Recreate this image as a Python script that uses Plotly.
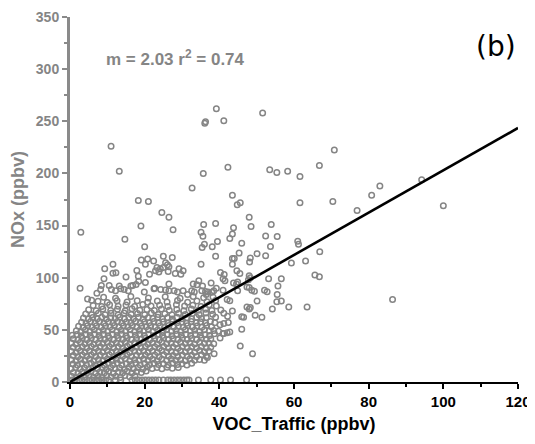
import plotly.graph_objects as go

# ---------------- data ----------------
slope = 2.03
r2 = 0.74

# points sitting on the bottom (near-zero NOx)
zero_row = [(0.5,1.8),(1.4,1.8),(2.3,1.8),(3.2,1.8),(4.1,1.8),(5.0,1.8),(5.9,1.8),(6.8,1.8),
            (7.7,1.8),(8.6,1.8),(9.5,1.8),(10.4,1.8),(12.1,1.8),(13.6,1.8),(16.6,1.8),(17.5,1.8),
            (18.4,1.8),(19.3,1.8),(20.2,1.8),(21.1,1.8),(22.0,1.8),(22.9,1.8),(23.8,1.8),(25.0,1.8),
            (26.2,1.8),(27.0,1.8),(27.9,1.8),(28.8,1.8),(29.6,1.8),(30.5,1.8),(31.3,1.8),(31.9,1.8),
            (34.4,1.8),(37.7,1.8),(40.3,1.8),(43.0,1.8),(47.3,1.8)]

# dense cloud (estimated)
cloud = [
 (0.4,5.5),(1.6,4.2),(2.8,6.1),(4.0,4.8),(5.1,6.4),(6.3,4.5),(7.5,5.8),(8.6,4.3),(9.8,6.2),(11.0,4.9),
 (12.3,5.6),(13.5,4.4),(14.7,6.3),(16.0,5.1),(17.4,6.0),
 (0.9,9.2),(2.1,8.3),(3.3,9.9),(4.5,8.6),(5.6,10.1),(6.9,8.4),(8.0,9.6),(9.2,8.8),(10.4,10.2),(11.6,8.5),
 (12.9,9.7),(14.1,8.9),(15.3,10.4),(16.6,8.7),(17.8,9.9),(19.1,9.1),(20.4,10.6),
 (0.3,12.8),(1.5,13.9),(2.7,12.4),(3.9,13.6),(5.0,12.2),(6.2,14.1),(7.4,12.7),(8.6,13.8),(9.7,12.3),
 (10.9,14.0),(12.1,12.6),(13.3,13.5),(14.6,12.1),(15.8,14.2),(17.0,12.8),(18.2,13.9),(19.5,12.5),
 (20.7,14.3),(22.0,12.9),(23.3,13.8),(24.6,12.6),(26.0,14.1),(27.4,13.2),(29.0,13.9),
 (0.8,17.3),(2.0,16.2),(3.2,17.8),(4.4,16.5),(5.6,18.0),(6.8,16.4),(8.0,17.6),(9.2,16.1),(10.3,17.9),
 (11.5,16.6),(12.7,18.1),(13.9,16.3),(15.1,17.5),(16.4,16.8),(17.6,18.2),(18.8,16.4),(20.0,17.7),
 (21.3,16.5),(22.5,18.0),(23.7,16.9),(25.0,17.4),(26.3,16.2),(27.5,18.3),(28.8,16.8),(30.0,17.6),
 (31.3,16.4),(32.6,17.9),
 (0.4,21.2),(1.6,20.3),(2.8,21.9),(4.0,20.5),(5.2,22.1),(6.4,20.2),(7.6,21.6),(8.8,20.7),(10.0,22.0),
 (11.2,20.4),(12.4,21.8),(13.6,20.6),(14.8,22.2),(16.0,20.3),(17.3,21.5),(18.5,20.8),(19.7,22.1),
 (20.9,20.5),(22.1,21.7),(23.4,20.2),(24.6,21.9),(25.9,20.6),(27.1,22.0),(28.4,20.7),(29.6,21.4),
 (30.9,20.3),(32.1,22.1),(33.4,20.8),(34.7,21.6),(36.0,20.9),(36.8,23.5),
 (0.9,25.4),(2.1,24.3),(3.3,25.8),(4.5,24.6),(5.7,26.0),(6.9,24.4),(8.1,25.7),(9.3,24.8),(10.5,26.1),
 (11.7,24.5),(12.9,25.9),(14.1,24.7),(15.3,26.2),(16.5,24.4),(17.8,25.6),(19.0,24.9),(20.2,26.0),
 (21.4,24.5),(22.7,25.8),(23.9,24.3),(25.1,26.1),(26.4,24.7),(27.6,25.5),(28.9,24.4),(30.1,26.0),
 (31.4,24.8),(32.6,25.7),(33.9,24.5),(35.2,26.1),(36.5,24.9),(38.6,27.2),
 (0.4,29.3),(1.6,28.4),(2.8,30.0),(4.0,28.6),(5.2,29.9),(6.4,28.3),(7.6,29.7),(8.8,28.8),(10.0,30.1),
 (11.2,28.5),(12.4,29.6),(13.6,28.7),(14.8,30.2),(16.0,28.4),(17.3,29.8),(18.5,28.9),(19.7,30.0),
 (20.9,28.5),(22.1,29.7),(23.4,28.3),(24.6,30.1),(25.9,28.7),(27.1,29.5),(28.4,28.4),(29.6,30.0),
 (30.9,28.8),(32.1,29.7),(33.4,28.5),(34.7,30.1),(36.0,28.9),(37.2,29.5),
 (0.9,33.4),(2.1,32.3),(3.3,33.9),(4.5,32.6),(5.7,34.0),(6.9,32.4),(8.1,33.7),(9.3,32.8),(10.5,34.1),
 (11.7,32.5),(12.9,33.9),(14.1,32.7),(15.3,34.2),(16.5,32.4),(17.8,33.6),(19.0,32.9),(20.2,34.0),
 (21.4,32.5),(22.7,33.8),(23.9,32.3),(25.1,34.1),(26.4,32.7),(27.6,33.5),(28.9,32.4),(30.1,34.0),
 (31.4,32.8),(32.6,33.7),(33.9,32.5),(35.2,34.1),(36.5,32.9),(37.7,33.3),
 (0.4,37.3),(1.6,36.4),(2.8,38.0),(4.0,36.6),(5.2,37.9),(6.4,36.3),(7.6,37.7),(8.8,36.8),(10.0,38.1),
 (11.2,36.5),(12.4,37.6),(13.6,36.7),(14.8,38.2),(16.0,36.4),(17.3,37.8),(18.5,36.9),(19.7,38.0),
 (20.9,36.5),(22.1,37.7),(23.4,36.3),(24.6,38.1),(25.9,36.7),(27.1,37.5),(28.4,36.4),(29.6,38.0),
 (30.9,36.8),(32.1,37.7),(33.4,36.5),(34.7,38.1),(36.0,36.9),(37.2,37.5),(38.5,36.6),
 (0.9,41.4),(2.1,40.3),(3.3,41.9),(4.5,40.6),(5.7,42.0),(6.9,40.4),(8.1,41.7),(9.3,40.8),(10.5,42.1),
 (11.7,40.5),(12.9,41.9),(14.1,40.7),(15.3,42.2),(16.5,40.4),(17.8,41.6),(19.0,40.9),(20.2,42.0),
 (21.4,40.5),(22.7,41.8),(23.9,40.3),(25.1,42.1),(26.4,40.7),(27.6,41.5),(28.9,40.4),(30.1,42.0),
 (31.4,40.8),(32.6,41.7),(33.9,40.5),(35.2,42.1),(36.5,40.9),(37.7,41.3),(40.2,42.3),
 (0.6,44.8),(1.8,45.6),(3.0,44.4),(4.2,45.9),(5.4,44.5),(6.6,46.0),(7.8,44.6),(9.0,45.7),(10.2,44.3),
 (11.4,45.8),(12.6,44.7),(13.8,46.1),(15.0,44.4),(16.2,45.5),(17.5,44.9),(18.7,46.0),(19.9,44.5),
 (21.1,45.7),(22.4,44.3),(23.6,46.1),(24.8,44.7),(26.1,45.5),(27.3,44.4),(28.6,46.0),(29.8,44.8),
 (31.1,45.7),(32.3,44.5),(33.6,46.1),(34.9,44.9),(36.2,45.3),(37.4,44.6),(38.7,46.2),(41.0,46.5),
 (1.7,49.2),(2.9,48.3),(4.1,49.8),(5.3,48.5),(6.5,50.0),(7.7,48.4),(8.9,49.6),(10.1,48.7),(11.3,50.1),
 (12.5,48.5),(13.7,49.7),(14.9,48.8),(16.1,50.2),(17.3,48.4),(18.6,49.7),(19.8,48.9),(21.0,50.0),
 (22.2,48.6),(23.5,49.8),(24.7,48.4),(25.9,50.1),(27.2,48.7),(28.4,49.5),(29.7,48.5),(30.9,50.0),
 (32.2,48.8),(33.4,49.6),(34.7,48.5),(36.0,50.1),(37.3,48.9),(38.5,49.4),(39.8,48.6),
 (2.3,53.4),(3.5,52.3),(4.7,53.9),(5.9,52.6),(7.1,54.0),(8.3,52.4),(9.5,53.7),(10.7,52.8),(11.9,54.1),
 (13.1,52.5),(14.3,53.9),(15.5,52.7),(16.7,54.2),(17.9,52.4),(19.2,53.6),(20.4,52.9),(21.6,54.0),
 (22.8,52.5),(24.1,53.8),(25.3,52.3),(26.5,54.1),(27.8,52.7),(29.0,53.5),(30.3,52.4),(31.5,54.0),
 (32.8,52.8),(34.0,53.7),(35.3,52.5),(36.6,54.1),(37.9,52.9),(40.2,54.8),
 (3.1,57.3),(4.3,56.4),(5.5,58.0),(6.7,56.6),(7.9,57.9),(9.1,56.3),(10.3,57.7),(11.5,56.8),(12.7,58.1),
 (13.9,56.5),(15.1,57.6),(16.3,56.7),(17.6,58.2),(18.8,56.4),(20.0,57.8),(21.2,56.9),(22.5,58.0),
 (23.7,56.5),(25.0,57.7),(26.2,56.3),(27.5,58.1),(28.7,56.7),(30.0,57.5),(31.2,56.4),(32.5,58.0),
 (33.8,56.8),(35.0,57.7),(36.3,56.5),(37.6,58.1),(38.8,56.9),
 (3.6,61.4),(4.9,60.3),(6.1,61.9),(7.3,60.6),(8.5,62.0),(9.7,60.4),(10.9,61.7),(12.1,60.8),(13.3,62.1),
 (14.6,60.5),(15.8,61.9),(17.0,60.7),(18.3,62.2),(19.6,60.4),(20.9,61.6),(22.2,60.9),(23.5,62.0),
 (24.8,60.5),(26.1,61.8),(27.4,60.3),(28.7,62.1),(30.0,60.7),(31.3,61.5),(32.6,60.4),(33.9,62.0),
 (35.2,60.8),(36.5,61.7),(39.0,62.2),
 (4.2,65.3),(5.8,64.4),(7.6,66.0),(9.4,64.6),(11.0,65.9),(12.9,64.3),(14.5,66.2),(16.4,64.8),(18.1,65.7),
 (20.0,64.5),(21.8,66.1),(23.6,64.7),(25.4,65.5),(27.3,64.4),(29.1,66.0),(30.9,64.8),(32.8,65.7),
 (34.6,64.5),(36.4,66.1),(38.2,64.9),
 (5.0,69.4),(7.0,68.3),(8.8,70.0),(10.9,68.6),(12.7,69.8),(14.8,68.4),(16.6,70.2),(18.7,68.9),(20.6,69.6),
 (22.6,68.5),(24.5,70.1),(26.6,68.7),(28.6,69.5),(30.5,68.4),(32.5,70.0),(34.4,68.8),(36.3,69.7),(38.0,68.5),
 (6.2,73.3),(8.5,72.4),(10.6,74.0),(12.9,72.6),(15.0,73.9),(17.3,72.3),(19.5,74.2),(21.7,72.8),(24.0,73.6),
 (26.2,72.4),(28.5,74.0),(30.7,72.9),(32.9,73.7),(35.1,72.5),(37.3,74.1),(39.2,72.8),
 (7.5,77.4),(10.0,76.3),(12.6,78.0),(15.3,76.6),(18.0,77.9),(20.8,76.4),(23.4,77.7),(26.0,76.8),(28.8,78.1),
 (31.5,76.5),(34.0,77.6),(36.7,76.9),(39.0,78.2),
 (9.0,81.2),(12.2,80.4),(16.3,82.0),(21.0,80.6),(25.5,81.8),(29.5,80.3),(33.0,82.1),(35.8,80.7),(38.3,81.5),
 (4.7,79.5),(5.8,78.5),(33.0,94.0),(35.5,92.0),(37.8,95.0),(39.2,90.0),(36.5,84.0),(31.5,84.0),(38.0,86.0),
]

# scattered points (read individually)
scattered = [
 (11.0,226),(13.2,202),(18.3,174),(21.0,173),(24.6,162.5),(26.5,158),(32.7,186),(35.7,200),
 (36.1,248),(36.3,249.5),(39.2,262),(41.2,250.6),(42.3,206),(43.5,179),(44.8,170),(45.6,172),
 (48.0,158),(51.6,258),(53.5,203.5),(55.4,201),(58.3,202),(61.6,197),(66.8,207.5),(70.8,222.5),
 (61.6,172),(70.4,173),(76.9,164.4),(80.8,179),(83.0,188),(94.2,194),(100.0,169),(86.4,79),
 (55.5,139.5),(53.7,130),(61.0,135),(61.2,132),(66.9,125),(59.3,114),(63.1,116),(65.6,102.5),
 (66.8,101),(56.6,99),(55.7,92),(55.5,84),(55.4,77),(56.6,77.6),(54.2,70),(58.6,72),(63.5,72),
 (53.9,151),(43.8,148),(48.5,149),(43.5,142),(42.8,137.6),(52.4,140),(46.0,133),(45.3,123.6),
 (50.1,123),(52.4,121),(48.3,119),(48.1,115),(43.5,118.5),(44.0,118.5),(43.5,113),(40.3,105),
 (41.3,103),(41.0,99),(41.5,97),(44.7,106.6),(45.5,104),(48.0,102),(48.3,100),(47.8,98),(53.2,99),
 (43.8,95),(44.6,94),(44.9,96),(47.4,91),(48.0,90.7),(48.7,88),(49.4,87),(52.1,88),(52.8,86.5),
 (50.1,77.6),(44.9,87.5),(42.1,79),(42.8,78),(47.4,72),(48.0,70),(48.3,71.5),(43.5,68),(40.4,69),
 (41.2,66),(42.2,63),(46.0,62.5),(46.5,62),(49.6,64),(51.4,62),(41.2,56),(42.4,57),(41.2,46.6),
 (42.1,47.2),(42.8,48),(46.0,50.5),(45.6,34.5),(48.9,27),
 (2.9,143.7),(19.0,149.7),(14.7,137),(20.0,129.6),(19.1,117),(20.8,118),(20.2,113),(22.4,116),
 (11.5,113),(9.3,108.5),(11.5,104.4),(12.3,104.7),(17.9,107),(18.3,101.5),(21.3,103.4),(9.1,99),
 (15.0,100.6),(18.4,96.7),(20.2,95.5),(17.7,93.6),(16.8,92.6),(2.7,90),(8.4,92.6),(8.2,88.8),
 (10.5,92.6),(11.1,88.8),(13.2,92),(13.6,89.4),(14.5,88.8),(15.6,87.5),(16.3,92),(12.2,87.5),
 (7.2,85),(22.5,89.4),(19.9,86.2),
 (27.6,146),(35.8,151),(39.0,152),(35.1,143.7),(35.6,139.8),(36.0,132),(35.4,129),(38.1,129.6),
 (39.5,134.7),(39.0,120.7),(35.1,113),(25.0,120.7),(27.4,119.4),(25.6,114.3),(26.1,112.4),
 (26.5,110.4),(23.3,109.9),(24.2,108.5),(25.0,109.9),(22.9,106.6),(23.8,105.4),(26.3,106),
 (29.2,108.5),(30.3,106.6),(29.7,103.4),(28.2,104),(34.5,97),(34.0,93.2),(26.5,93.9),(22.7,90),
 (24.3,88.8),(25.6,88.1),(26.5,87.5),(27.9,87.5),(28.8,86.2),(30.3,87.5),(32.6,87.5),(33.3,86.2),
 (35.3,87.5),(36.3,86.8),(37.0,86.2),(38.5,87.5),(41.0,88),
]

all_points = zero_row + cloud + scattered
voc_traffic = [p[0] for p in all_points]
nox = [p[1] for p in all_points]

x_ticks = [0, 20, 40, 60, 80, 100, 120]
y_ticks = [0, 50, 100, 150, 200, 250, 300, 350]

fit_x = [0, 120]
fit_y = [slope * v for v in fit_x]

GRAY = "#858585"
FONT = "Liberation Sans"

fig = go.Figure()
fig.add_trace(go.Scatter(
    x=voc_traffic, y=nox, mode="markers", cliponaxis=False,
    marker=dict(symbol="circle-open", size=5.5, color=GRAY, line=dict(width=1.5, color=GRAY)),
    showlegend=False, hoverinfo="skip"))
fig.add_trace(go.Scatter(
    x=fit_x, y=fit_y, mode="lines", line=dict(color="black", width=2.6),
    showlegend=False, hoverinfo="skip"))

# page body adds an 8px offset, so the figure is 8px smaller and margins compensate
fig.update_layout(
    width=527, height=436,
    margin=dict(l=62, r=17, t=9, b=62, autoexpand=False),
    paper_bgcolor="white", plot_bgcolor="white",
    font=dict(family=FONT),
    xaxis=dict(
        range=[0, 120], tickvals=x_ticks, ticktext=[str(t) for t in x_ticks],
        automargin=False,
        showline=True, linecolor="black", linewidth=2,
        ticks="outside", ticklen=5, tickwidth=2, tickcolor="black",
        minor=dict(dtick=10, ticks="outside", ticklen=3, tickwidth=2, tickcolor="black"),
        tickfont=dict(family=FONT, size=15, color="black", weight="bold"),
        showgrid=False, zeroline=False,
        title=dict(text="VOC_Traffic (ppbv)", standoff=8,
                   font=dict(family=FONT, size=18, color="black", weight="bold")),
    ),
    yaxis=dict(
        range=[0, 350], tickvals=y_ticks, ticktext=[str(t) for t in y_ticks],
        automargin=False,
        showline=True, linecolor="#8a8a8a", linewidth=3,
        ticks="outside", ticklen=5, tickwidth=2, tickcolor="#8a8a8a",
        minor=dict(dtick=25, ticks="outside", ticklen=3, tickwidth=2, tickcolor="#8a8a8a"),
        tickfont=dict(family=FONT, size=14, color=GRAY, weight="bold"),
        showgrid=False, zeroline=False,
        title=dict(text="NOx (ppbv)", standoff=9,
                   font=dict(family=FONT, size=18, color=GRAY, weight="bold")),
    ),
    annotations=[
        dict(x=9.0, y=311, xref="x", yref="y", xanchor="left", yanchor="middle",
             text=f"m = {slope:.2f} r<sup>2</sup> = {r2:.2f}", showarrow=False,
             font=dict(family=FONT, size=17, color=GRAY, weight="bold")),
        dict(x=1.0, y=0.92, xref="paper", yref="paper", xanchor="right", yanchor="middle",
             text="(b)", showarrow=False,
             font=dict(family="DejaVu Sans", size=28, color="black")),
    ],
)

fig.write_html("out.html")
